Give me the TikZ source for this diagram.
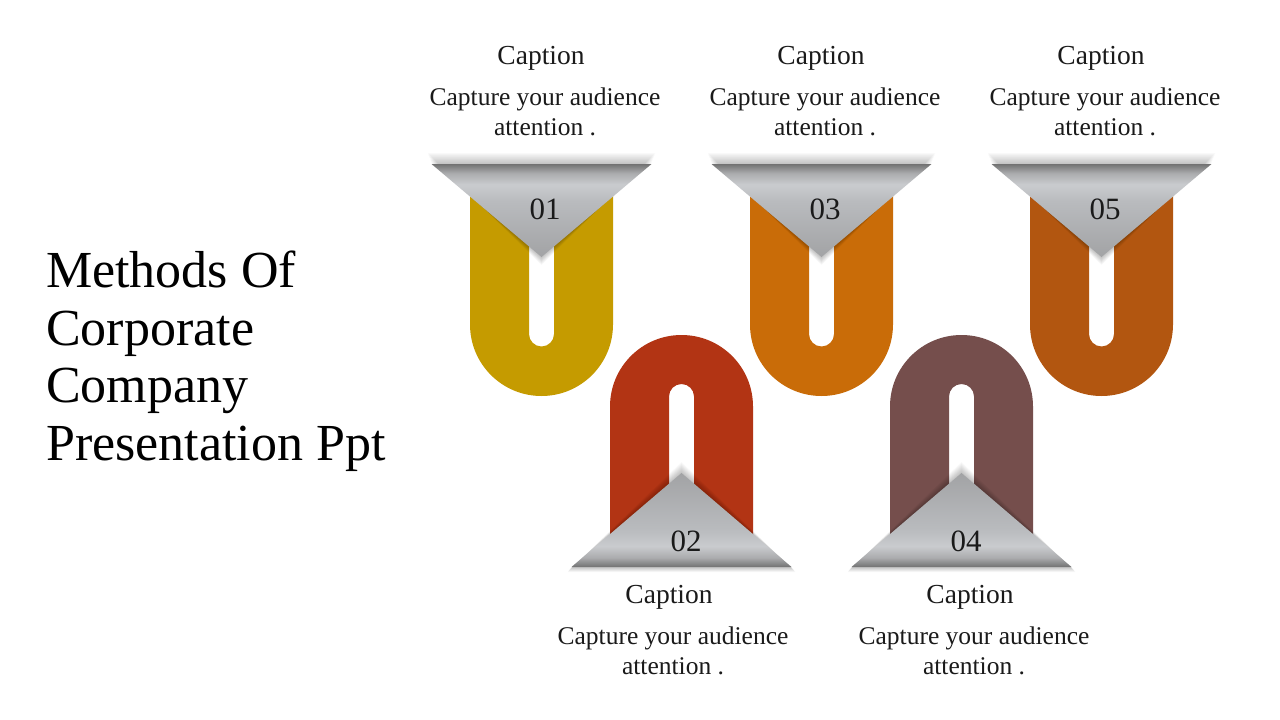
\documentclass[tikz,border=0pt]{standalone}
\usepackage{fontspec}
\setmainfont{Liberation Serif}
\definecolor{cA}{HTML}{C59B00}
\definecolor{cB}{HTML}{B23414}
\definecolor{cC}{HTML}{C96C08}
\definecolor{cD}{HTML}{754E4C}
\definecolor{cE}{HTML}{B25610}
\definecolor{gapex}{HTML}{A2A3A5}
\definecolor{gmid}{HTML}{B9BBBE}
\definecolor{glight}{HTML}{C9CBCE}
\definecolor{gband}{HTML}{ABACAE}
\definecolor{gdark}{HTML}{727272}
\definecolor{txt}{HTML}{1A1A1A}
\pgfdeclareverticalshading{tritop}{100bp}{color(0bp)=(gapex); color(25bp)=(gapex); color(55bp)=(gmid); color(64bp)=(glight); color(70bp)=(gband); color(75bp)=(gdark); color(100bp)=(gdark)}
\pgfdeclareverticalshading{tribot}{100bp}{color(0bp)=(gdark); color(25bp)=(gdark); color(30bp)=(gband); color(36bp)=(glight); color(45bp)=(gmid); color(75bp)=(gapex); color(100bp)=(gapex)}
\tikzset{
  captxt/.style={font=\fontsize{27.5}{30}\selectfont, text=txt, inner sep=0pt},
  bodytxt/.style={font=\fontsize{25.5}{30}\selectfont, text=txt, align=center, inner sep=0pt},
  numtxt/.style={font=\fontsize{31}{34}\selectfont, text=txt, inner sep=0pt},
}
\newcommand{\uup}[2]{% opening up, centre x, colour
  \fill[#2] (#1-71.5,180) -- (#1-71.5,324.5) arc[start angle=180, end angle=0, radius=71.5]
    -- (#1+71.5,180) -- (#1+12.5,180) -- (#1+12.5,334) arc[start angle=0, end angle=180, radius=12.5]
    -- (#1-12.5,180) -- cycle;
  \foreach \i in {1,...,10} {
    \fill[black, opacity=0.025] (#1-110-0.4*\i,164-1.1*\i) -- (#1+110+0.4*\i,164-1.1*\i) -- (#1,257+0.8*\i) -- cycle;
  }
  \shade[shading=tritop] (#1-110,164) -- (#1+110,164) -- (#1,257) -- cycle;
}
\newcommand{\udown}[2]{% opening down
  \fill[#2] (#1-71.5,550) -- (#1-71.5,406.5) arc[start angle=180, end angle=360, radius=71.5]
    -- (#1+71.5,550) -- (#1+12.5,550) -- (#1+12.5,396.5) arc[start angle=0, end angle=-180, radius=12.5]
    -- (#1-12.5,550) -- cycle;
  \foreach \i in {1,...,10} {
    \fill[black, opacity=0.025] (#1-110-0.4*\i,567+0.5*\i) -- (#1+110+0.4*\i,567+0.5*\i) -- (#1,473-1.1*\i) -- cycle;
  }
  \shade[shading=tribot] (#1-110,567) -- (#1+110,567) -- (#1,473) -- cycle;
}
\begin{document}
\begin{tikzpicture}[x=1pt,y=-1pt]
\useasboundingbox[fill=white] (0,0) rectangle (1280,720);
% U shapes
\uup{541.5}{cA}
\udown{681.5}{cB}
\uup{821.5}{cC}
\udown{961.5}{cD}
\uup{1101.5}{cE}
% numbers
\node[numtxt] (n1) at (545,209) {01};
\node[numtxt] (n2) at (686,541) {02};
\node[numtxt] (n3) at (825,209) {03};
\node[numtxt] (n4) at (966,541) {04};
\node[numtxt] (n5) at (1105,209) {05};
% captions
\node[captxt] (c1) at (541,58) {Caption};
\node[captxt] (c3) at (821,58) {Caption};
\node[captxt] (c5) at (1101,58) {Caption};
\node[captxt] (c2) at (669,597) {Caption};
\node[captxt] (c4) at (970,597) {Caption};
\node[bodytxt] (t1) at (545,112) {Capture your audience\\attention .};
\node[bodytxt] (t3) at (825,112) {Capture your audience\\attention .};
\node[bodytxt] (t5) at (1105,112) {Capture your audience\\attention .};
\node[bodytxt] (t2) at (673,651) {Capture your audience\\attention .};
\node[bodytxt] (t4) at (974,651) {Capture your audience\\attention .};
% title
\node[anchor=west, align=left, inner sep=0pt, text=black, font=\fontsize{52}{57.5}\selectfont] (title) at (46,361)
  {Methods Of\\Corporate\\Company\\Presentation Ppt};
\end{tikzpicture}
\end{document}
